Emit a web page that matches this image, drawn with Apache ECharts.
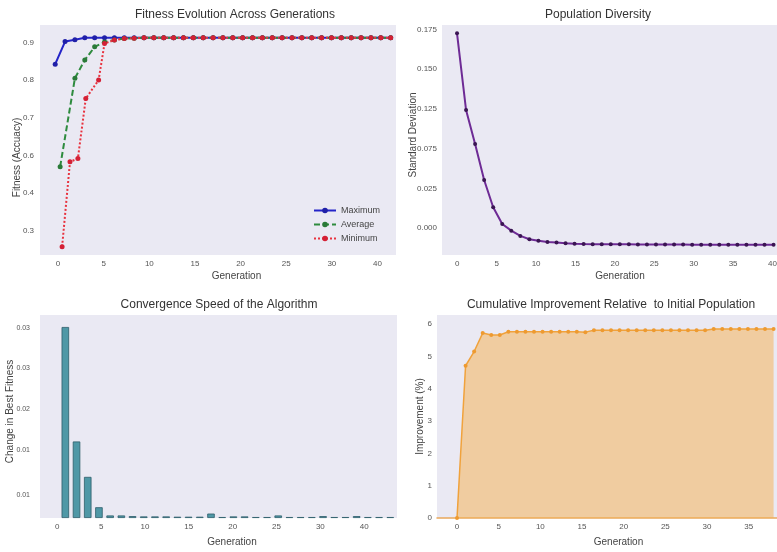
<!DOCTYPE html>
<html><head><meta charset="utf-8">
<script src="https://cdn.jsdelivr.net/npm/echarts@6/dist/echarts.min.js"></script>
<style>html,body{margin:0;padding:0;background:#fff}#c{width:777px;height:552px}</style>
</head><body><div id="c"></div>
<script>
// ---------- Panel 1: Fitness Evolution ----------
const fitGen = [0,1,2,3,4,5,6,7,8,9,10,11,12,13,14,15,16,17,18,19,20,21,22,23,24,25,26,27,28,29,30,31,32,33,34];
const fitMax = [0.842,0.902,0.907,0.912,0.912,0.912,0.912,0.912,0.912,0.912,0.912,0.912,0.912,0.912,0.912,0.912,0.912,0.912,0.912,0.912,0.912,0.912,0.912,0.912,0.912,0.912,0.912,0.912,0.912,0.912,0.912,0.912,0.912,0.912,0.912];
const avgGen = [0.5,2,3,4,5,6,7,8,9,10,11,12,13,14,15,16,17,18,19,20,21,22,23,24,25,26,27,28,29,30,31,32,33,34];
const fitAvg = [0.570,0.805,0.853,0.888,0.901,0.906,0.910,0.911,0.912,0.912,0.912,0.912,0.912,0.912,0.912,0.912,0.912,0.912,0.912,0.912,0.912,0.912,0.912,0.912,0.912,0.912,0.912,0.912,0.912,0.912,0.912,0.912,0.912,0.912];
const minGen = [0.7,1.5,2.3,3.1,4.4,5,6,7,8,9,10,11,12,13,14,15,16,17,18,19,20,21,22,23,24,25,26,27,28,29,30,31,32,33,34];
const fitMin = [0.358,0.583,0.592,0.751,0.800,0.897,0.906,0.910,0.911,0.912,0.912,0.912,0.912,0.912,0.912,0.912,0.912,0.912,0.912,0.912,0.912,0.912,0.912,0.912,0.912,0.912,0.912,0.912,0.912,0.912,0.912,0.912,0.912,0.912,0.912];
const fitXTickPos = [0,5,10,15,20,25,30,35];
const fitXTickText = ['0','5','10','15','20','25','30','40'];
const fitYTickPos = [0.4,0.5,0.6,0.7,0.8,0.9];
const fitYTickText = ['0.3','0.4','0.6','0.7','0.8','0.9'];

// ---------- Panel 2: Population Diversity ----------
const divGen = [0,1,2,3,4,5,6,7,8,9,10,11,12,13,14,15,16,17,18,19,20,21,22,23,24,25,26,27,28,29,30,31,32,33,34,35];
const divStd = [0.1725,0.1243,0.1030,0.0803,0.0632,0.0527,0.0485,0.0452,0.0431,0.0422,0.0414,0.0410,0.0406,0.0403,0.0401,0.0400,0.0400,0.0399,0.0399,0.0399,0.0398,0.0398,0.0398,0.0398,0.0398,0.0398,0.0397,0.0397,0.0397,0.0397,0.0397,0.0397,0.0397,0.0397,0.0397,0.0397];
const divXTickPos = [0,5,10,15,20,25,30,35,40];
const divXTickText = ['0','5','10','15','20','25','30','35','40'];
const divYTickPos = [0.050,0.075,0.100,0.125,0.150,0.175];
const divYTickText = ['0.000','0.025','0.075','0.125','0.150','0.175'];

// ---------- Panel 3: Convergence Speed ----------
const barGen = [1,2,3,4,5,6,7,8,9,10,11,12,13,14,15,16,17,18,19,20,21,22,23,24,25,26,27,28,29,30];
const barDelta = [0.0302,0.0121,0.0065,0.0017,0.0004,0.0004,0.0003,0.00025,0.00025,0.00025,0.0002,0.0002,0.0002,0.0007,0.00015,0.00025,0.00025,0.00015,0.00015,0.0004,0.00015,0.00015,0.00015,0.0003,0.00015,0.00015,0.0003,0.00015,0.00015,0.00015];
const barXTickPos = [0,5,10,15,20,25,30,35];
const barXTickText = ['0','5','10','15','20','25','30','40'];
const barYTickPos = [0.0036,0.0107,0.0173,0.0237,0.0300];
const barYTickText = ['0.01','0.01','0.02','0.03','0.03'];

// ---------- Panel 4: Cumulative Improvement ----------
const cumGen = [0,1,2,3,4,5,6,7,8,9,10,11,12,13,14,15,16,17,18,19,20,21,22,23,24,25,26,27,28,29,30,31,32,33,34,35,36,37];
const cumImp = [0,4.71,5.15,5.72,5.66,5.66,5.76,5.76,5.76,5.76,5.76,5.76,5.76,5.76,5.76,5.75,5.81,5.81,5.81,5.81,5.81,5.81,5.81,5.81,5.81,5.81,5.81,5.81,5.81,5.81,5.85,5.85,5.85,5.85,5.85,5.85,5.85,5.85];
const cumXTickPos = [0,5,10,15,20,25,30,35];
const cumXTickText = ['0','5','10','15','20','25','30','35'];
const cumYTickPos = [0,1,2,3,4,5,6];
const cumYTickText = ['0','1','2','3','4','5','6'];

const FONT = '"Liberation Sans", Arial, sans-serif';
const BG = '#eae9f3';
const TICK = { fontSize: 8, color: '#555', fontFamily: FONT };
const NAME = { fontSize: 10, color: '#444', fontFamily: FONT };

function zip(xs, ys) { return xs.map((x, i) => [x, ys[i]]); }
function labeler(pos, txt) {
  return function (v) {
    let best = 0, bd = Infinity;
    pos.forEach((p, i) => { const d = Math.abs(p - v); if (d < bd) { bd = d; best = i; } });
    return txt[best];
  };
}
function labelAxis(grid, min, max, pos, txt, name, gap, pad, margin, line) {
  return {
    type: 'value', gridIndex: grid, min: min, max: max, position: 'bottom',
    name: name, nameLocation: 'middle', nameGap: gap, nameMoveOverlap: false,
    nameTextStyle: Object.assign({ padding: pad }, NAME),
    axisLine: line ? { show: true, onZero: false, lineStyle: line } : { show: false },
    axisTick: { show: false, customValues: pos },
    splitLine: { show: false },
    axisLabel: Object.assign({ customValues: pos, formatter: labeler(pos, txt), margin: margin }, TICK)
  };
}
function dataAxis(grid, min, max) {
  return { type: 'value', gridIndex: grid, min: min, max: max, show: false, splitLine: { show: false } };
}
function yAxis(grid, min, max, pos, txt, name, gap, pad, margin, fs) {
  return {
    type: 'value', gridIndex: grid, min: min, max: max,
    name: name, nameLocation: 'middle', nameGap: gap, nameMoveOverlap: false,
    nameTextStyle: Object.assign({ padding: pad }, NAME),
    axisLine: { show: false }, axisTick: { show: false, customValues: pos },
    splitLine: { show: false },
    axisLabel: Object.assign({}, TICK, { customValues: pos, formatter: labeler(pos, txt), margin: margin, fontSize: fs || 8 })
  };
}
function title(text, x, y) {
  return { text: text, left: x, top: y, textAlign: 'center', padding: 0,
    textStyle: { fontSize: 12, fontWeight: 'normal', color: '#333', fontFamily: FONT } };
}
const gridBase = { show: true, backgroundColor: BG, borderWidth: 0, containLabel: false, outerBoundsMode: 'none' };

const chart = echarts.init(document.getElementById('c'), null, { renderer: 'canvas' });
chart.setOption({
  animation: false,
  backgroundColor: '#fff',
  textStyle: { fontFamily: FONT },
  title: [
    title('Fitness Evolution Across Generations', 235, 9),
    title('Population Diversity', 598, 9),
    title('Convergence Speed of the Algorithm', 219, 299),
    title('Cumulative Improvement Relative  to Initial Population', 611, 299)
  ],
  grid: [
    Object.assign({ left: 40, top: 25, width: 356, height: 230 }, gridBase),
    Object.assign({ left: 442, top: 25, width: 335, height: 230 }, gridBase),
    Object.assign({ left: 40, top: 315, width: 357, height: 203 }, gridBase),
    Object.assign({ left: 437, top: 315, width: 340, height: 203 }, gridBase)
  ],
  legend: {
    data: ['Maximum', 'Average', 'Minimum'], orient: 'vertical', left: 313, top: 206,
    itemWidth: 22, itemHeight: 7, itemGap: 5, padding: 0,
    textStyle: { fontSize: 9, color: '#444', fontFamily: FONT }
  },
  xAxis: [
    labelAxis(0, -1.98, 37.03, fitXTickPos, fitXTickText, 'Generation', 16, [0, 0, 0, 37], 5),
    dataAxis(0, -1.54, 34.54),
    labelAxis(1, -1.94, 40.57, divXTickPos, divXTickText, 'Generation', 16, [0, 0, 0, 21], 5),
    dataAxis(1, -1.66, 35.38),
    labelAxis(2, -1.97, 38.74, barXTickPos, barXTickText, 'Generation', 19, [0, 0, 0, 27], 5),
    dataAxis(2, -1.26, 30.6),
    labelAxis(3, -2.4, 38.4, cumXTickPos, cumXTickText, 'Generation', 19, [0, 0, 0, 23], 5, { color: '#e9a85c', width: 1.5 }),
    dataAxis(3, -2.34, 37.4)
  ],
  yAxis: [
    yAxis(0, 0.336, 0.946, fitYTickPos, fitYTickText, 'Fitness (Accuacy)', 18, [0, 35, 0, 0], 6, 8),
    yAxis(1, 0.0332, 0.1777, divYTickPos, divYTickText, 'Standard Deviation', 24, [0, 0, 0, 10], 5, 8),
    yAxis(2, 0, 0.0321, barYTickPos, barYTickText, 'Change in Best Fitness', 25, [0, 0, 0, 10], 10, 7),
    yAxis(3, 0, 6.28, cumYTickPos, cumYTickText, 'Improvement (%)', 12, 0, 5, 8)
  ],
  series: [
    { name: 'Maximum', type: 'line', xAxisIndex: 1, yAxisIndex: 0, data: zip(fitGen, fitMax),
      symbol: 'circle', symbolSize: 5, lineStyle: { color: '#2424c8', width: 2 }, itemStyle: { color: '#2020a8' } },
    { name: 'Average', type: 'line', xAxisIndex: 1, yAxisIndex: 0, data: zip(avgGen, fitAvg),
      symbol: 'circle', symbolSize: 5, lineStyle: { color: '#2e8b3e', width: 2, type: [6, 3] }, itemStyle: { color: '#2a7a38' } },
    { name: 'Minimum', type: 'line', xAxisIndex: 1, yAxisIndex: 0, data: zip(minGen, fitMin),
      symbol: 'circle', symbolSize: 5, lineStyle: { color: '#e8323e', width: 2, type: [2, 2] }, itemStyle: { color: '#d42035' } },
    { name: 'Diversity', type: 'line', xAxisIndex: 3, yAxisIndex: 1, data: zip(divGen, divStd),
      symbol: 'circle', symbolSize: 4, lineStyle: { color: '#6e2b95', width: 2 }, itemStyle: { color: '#3a1552' } },
    { name: 'Delta', type: 'bar', xAxisIndex: 5, yAxisIndex: 2, data: zip(barGen, barDelta), barWidth: 7.5,
      itemStyle: { color: '#4f98a6', borderColor: '#2d5d6a', borderWidth: 0.8 } },
    { name: 'Improvement', type: 'line', xAxisIndex: 7, yAxisIndex: 3, data: zip(cumGen, cumImp),
      symbol: 'circle', symbolSize: 4, lineStyle: { color: '#f0a23c', width: 1.5 }, itemStyle: { color: '#ee9a30' },
      areaStyle: { color: 'rgba(245,176,80,0.72)' } }
  ]
});
</script>
</body></html>
